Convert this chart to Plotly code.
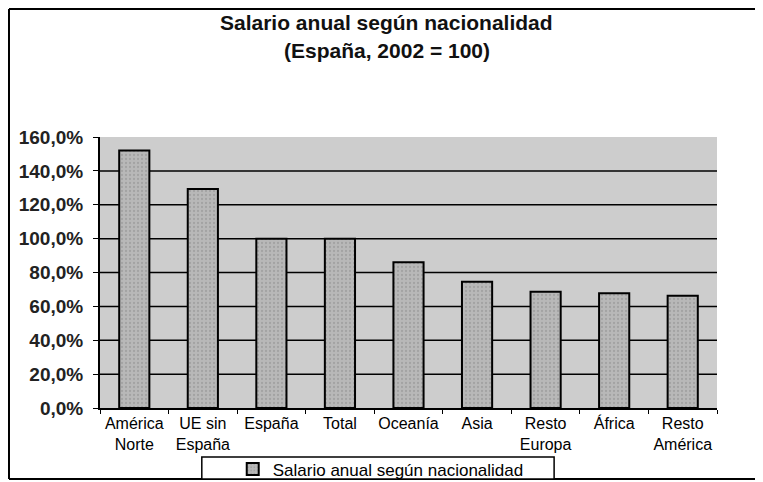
import plotly.graph_objects as go

# Salario anual según nacionalidad (España, 2002 = 100)
categorias = ["América<br>Norte", "UE sin<br>España", "España", "Total", "Oceanía",
              "Asia", "Resto<br>Europa", "África", "Resto<br>América"]
salario = [152.0, 129.3, 100.0, 100.0, 86.0, 74.5, 68.7, 67.7, 66.3]
ticks_y = [0, 20, 40, 60, 80, 100, 120, 140, 160]
ticks_txt = [f"<b>{v:.1f}%</b>".replace(".", ",") for v in ticks_y]

fig = go.Figure()

fig.add_trace(go.Bar(
    x=categorias, y=salario, name="Salario anual según nacionalidad",
    marker=dict(color="#b2b2b2", line=dict(color="black", width=2),
                pattern=dict(shape=".", fgcolor="#8c8c8c", bgcolor="#b8b8b8", size=4, solidity=0.25)),
    width=0.44,
))

# horizontal gridlines (no line on top edge, like the original)
for t in ticks_y[1:-1]:
    fig.add_shape(type="line", xref="paper", yref="y", x0=0, x1=1, y0=t, y1=t,
                  line=dict(color="black", width=1.5), layer="below")

# frame around the whole chart
frame = dict(color="black", width=2)
fig.add_shape(type="line", xref="paper", yref="paper", x0=-0.1475, x1=1.08, y0=1.472, y1=1.472, line=frame)
fig.add_shape(type="line", xref="paper", yref="paper", x0=-0.1475, x1=-0.1475, y0=1.472, y1=-0.262, line=frame)
fig.add_shape(type="line", xref="paper", yref="paper", x0=-0.1475, x1=1.08, y0=-0.262, y1=-0.262, line=frame)

# legend box (open at the bottom, cut by the frame like in the scan)
fig.add_shape(type="rect", xref="paper", yref="paper", x0=0.165, x1=0.736, y0=-0.181, y1=-0.262,
              line=dict(color="black", width=1.5), fillcolor="white")

# title (two lines)
fig.add_annotation(text="<b>Salario anual según nacionalidad</b>", xref="paper", yref="paper",
                   x=0.465, y=1.424, xanchor="center", yanchor="middle", showarrow=False,
                   font=dict(size=21, color="#111"))
fig.add_annotation(text="<b>(España, 2002 = 100)</b>", xref="paper", yref="paper",
                   x=0.465, y=1.321, xanchor="center", yanchor="middle", showarrow=False,
                   font=dict(size=21, color="#111"))

fig.update_layout(
    width=755, height=474,
    margin=dict(l=92, r=46, t=129, b=74, autoexpand=False),
    paper_bgcolor="white", plot_bgcolor="#cdcdcd",
    font=dict(family="Liberation Sans, Arial", color="black"),
    showlegend=True,
    legend=dict(orientation="h", x=0.455, xanchor="center", y=-0.16, yanchor="top",
                borderwidth=0, bgcolor="rgba(0,0,0,0)",
                font=dict(size=17), itemwidth=30),
    bargap=0.56,
)

fig.update_xaxes(showline=True, linecolor="black", linewidth=2, tickson="boundaries",
                 ticks="outside", ticklen=4, tickcolor="black", tickangle=0,
                 tickfont=dict(size=16), showgrid=False)
fig.update_yaxes(range=[0, 160], tickvals=ticks_y, ticktext=ticks_txt,
                 showline=True, linecolor="black", linewidth=2, ticks="outside",
                 ticklen=5, tickcolor="black", showgrid=False, zeroline=False,
                 ticklabelstandoff=6, tickfont=dict(size=19, color="#222"))

fig.write_html("out.html")
